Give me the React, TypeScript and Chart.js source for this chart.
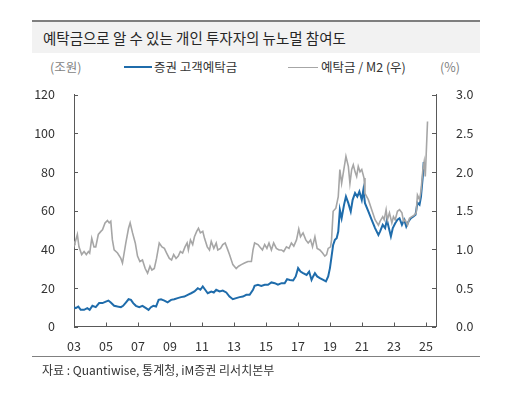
import { useEffect, useRef } from 'react';
import { Chart, registerables } from 'chart.js';

Chart.register(...registerables);

// 증권 고객예탁금 (조원)
const depositYears = [
  2003.0, 2003.11, 2003.27, 2003.42, 2003.63, 2003.83, 2003.98, 2004.15, 2004.36, 2004.57,
  2004.78, 2004.99, 2005.15, 2005.3, 2005.51, 2005.72, 2005.93, 2006.07, 2006.24, 2006.41,
  2006.56, 2006.7, 2006.87, 2007.08, 2007.28, 2007.5, 2007.66, 2007.81, 2007.96, 2008.13,
  2008.29, 2008.44, 2008.65, 2008.85, 2009.07, 2009.27, 2009.48, 2009.69, 2009.9, 2010.11,
  2010.32, 2010.53, 2010.74, 2010.9, 2011.05, 2011.2, 2011.36, 2011.58, 2011.74, 2011.89,
  2012.1, 2012.3, 2012.52, 2012.72, 2012.93, 2013.14, 2013.35, 2013.56, 2013.77, 2013.98,
  2014.19, 2014.29, 2014.5, 2014.71, 2014.92, 2015.13, 2015.34, 2015.55, 2015.75, 2015.97,
  2016.17, 2016.32, 2016.49, 2016.7, 2016.86, 2017.01, 2017.16, 2017.32, 2017.54, 2017.7,
  2017.85, 2017.95, 2018.06, 2018.2, 2018.37, 2018.58, 2018.75, 2018.89, 2019.0, 2019.1,
  2019.2, 2019.31, 2019.42, 2019.52, 2019.62, 2019.73, 2019.88, 2020.0, 2020.15, 2020.3,
  2020.42, 2020.57, 2020.71, 2020.84, 2020.99, 2021.09, 2021.19, 2021.4, 2021.61, 2021.82,
  2022.03, 2022.13, 2022.3, 2022.45, 2022.56, 2022.66, 2022.81, 2022.93, 2023.08, 2023.22,
  2023.35, 2023.5, 2023.64, 2023.77, 2023.91, 2024.06, 2024.22, 2024.35, 2024.47, 2024.6,
  2024.69, 2024.81, 2024.86,
];
const depositValues = [
  10.0, 9.5, 10.3, 8.6, 8.6, 9.5, 8.6, 10.7, 10.0, 12.1,
  12.1, 12.9, 13.4, 12.4, 10.7, 10.3, 10.0, 10.7, 12.4, 14.1,
  13.8, 12.1, 10.7, 10.0, 10.7, 9.5, 8.6, 10.0, 10.7, 10.3,
  13.8, 14.1, 13.4, 12.5, 13.8, 14.1, 14.7, 15.2, 15.5, 16.4,
  17.2, 18.1, 19.8, 19.0, 20.7, 19.0, 17.2, 18.1, 17.6, 19.0,
  18.1, 18.6, 17.6, 15.5, 14.1, 14.7, 15.2, 15.5, 16.4, 16.4,
  19.0, 21.0, 21.6, 21.0, 21.6, 21.6, 22.8, 22.4, 21.6, 22.4,
  22.4, 24.5, 24.1, 23.8, 25.9, 30.2, 28.4, 27.6, 26.7, 28.4,
  24.1, 25.9, 27.6, 25.9, 25.0, 24.1, 23.3, 25.9, 30.2, 36.2,
  42.2, 44.8, 45.7, 49.1, 60.3, 56.0, 62.9, 67.2, 63.8, 59.5,
  65.5, 69.0, 67.2, 69.8, 65.5, 70.7, 63.8, 59.5, 55.2, 50.9,
  47.4, 49.1, 52.6, 50.9, 55.2, 51.7, 46.6, 50.9, 53.4, 55.2,
  56.0, 52.6, 55.2, 51.7, 54.3, 56.0, 56.9, 57.8, 64.0, 63.0,
  67.0, 78.0, 85.0,
];

// 예탁금 / M2 (%), right axis
const ratioYears = [
  2003.0, 2003.06, 2003.21, 2003.31, 2003.48, 2003.63, 2003.77, 2003.9, 2003.98, 2004.11,
  2004.25, 2004.36, 2004.52, 2004.68, 2004.78, 2004.94, 2005.09, 2005.2, 2005.3, 2005.4,
  2005.51, 2005.72, 2005.93, 2006.03, 2006.24, 2006.41, 2006.51, 2006.66, 2006.83, 2006.97,
  2007.12, 2007.28, 2007.45, 2007.6, 2007.75, 2007.87, 2008.02, 2008.16, 2008.33, 2008.5,
  2008.65, 2008.79, 2008.96, 2009.1, 2009.23, 2009.38, 2009.52, 2009.65, 2009.79, 2009.94,
  2010.07, 2010.15, 2010.28, 2010.42, 2010.53, 2010.67, 2010.78, 2010.9, 2011.05, 2011.16,
  2011.33, 2011.47, 2011.58, 2011.74, 2011.89, 2011.99, 2012.16, 2012.3, 2012.45, 2012.58,
  2012.72, 2012.93, 2013.14, 2013.29, 2013.46, 2013.66, 2013.87, 2014.09, 2014.19, 2014.29,
  2014.5, 2014.61, 2014.78, 2014.92, 2015.06, 2015.19, 2015.34, 2015.48, 2015.65, 2015.82,
  2015.97, 2016.11, 2016.28, 2016.44, 2016.59, 2016.74, 2016.91, 2017.05, 2017.16, 2017.32,
  2017.49, 2017.64, 2017.79, 2017.91, 2018.06, 2018.2, 2018.37, 2018.54, 2018.68, 2018.79,
  2018.89, 2019.04, 2019.1, 2019.2, 2019.37, 2019.52, 2019.62, 2019.73, 2019.83, 2020.0,
  2020.15, 2020.25, 2020.36, 2020.46, 2020.57, 2020.67, 2020.77, 2020.88, 2020.99, 2021.13,
  2021.19, 2021.4, 2021.61, 2021.82, 2022.03, 2022.13, 2022.3, 2022.39, 2022.51, 2022.59,
  2022.72, 2022.87, 2022.97, 2023.08, 2023.22, 2023.35, 2023.5, 2023.6, 2023.7, 2023.85,
  2023.97, 2024.12, 2024.27, 2024.39, 2024.47, 2024.6, 2024.69, 2024.81, 2024.89, 2024.96,
  2025.02, 2025.1,
];
const ratioValues = [
  1.1, 1.08, 1.19, 1.03, 0.93, 0.97, 0.93, 0.97, 0.95, 1.14,
  1.03, 1.03, 1.19, 1.23, 1.25, 1.34, 1.37, 1.34, 1.36, 1.12,
  0.99, 0.95, 0.88, 0.82, 1.08, 1.27, 1.34, 1.21, 1.08, 0.91,
  0.84, 0.86, 0.75, 0.69, 0.78, 0.73, 0.75, 0.88, 1.08, 1.03,
  1.01, 0.95, 0.88, 0.86, 0.93, 0.88, 0.91, 0.97, 0.95, 1.03,
  1.08, 0.99, 1.12, 1.06, 1.16, 1.23, 1.27, 1.21, 1.23, 1.14,
  1.03, 0.99, 1.1, 1.01, 1.08, 0.99, 1.01, 1.06, 1.08, 1.01,
  0.93, 0.8, 0.75, 0.78, 0.8, 0.82, 0.84, 0.84, 0.99, 1.08,
  1.06, 1.03, 0.99, 1.06, 1.01, 1.08, 0.99, 1.08, 1.01, 0.99,
  0.99, 0.97, 1.03, 1.01, 1.08, 1.04, 1.12, 1.26, 1.16, 1.21,
  1.12, 1.08, 1.12, 1.03, 1.16, 1.01, 0.99, 0.95, 0.91, 0.93,
  1.01, 1.03, 1.12, 1.49, 1.53, 1.68, 2.03, 1.85, 1.98, 2.2,
  2.07, 1.85, 2.03, 2.09, 2.0, 1.94, 2.07, 2.0, 2.03, 1.92,
  1.72, 1.64, 1.51, 1.38, 1.31, 1.36, 1.42, 1.38, 1.51, 1.38,
  1.47, 1.34, 1.42, 1.38, 1.49, 1.51, 1.47, 1.36, 1.38, 1.31,
  1.4, 1.42, 1.44, 1.47, 1.7, 1.64, 1.75, 2.03, 2.13, 1.94,
  2.24, 2.65,
];

const xTickYears = [2003, 2005, 2007, 2009, 2011, 2013, 2015, 2017, 2019, 2021, 2023, 2025];

const BLUE = '#1f6cab';
const GREY = '#a6a6a6';
const AXIS = '#595959';
const FONT = '"Noto Sans CJK KR", "Noto Sans", sans-serif';

// axis tick marks in this chart point into the plot
const inwardTicks = {
  id: 'inwardTicks',
  afterDatasetsDraw(chart: any) {
    const { ctx, chartArea, scales } = chart;
    ctx.save();
    ctx.strokeStyle = AXIS;
    ctx.lineWidth = 1;
    ctx.beginPath();
    scales.x.ticks.forEach((t: any) => {
      const px = Math.round(scales.x.getPixelForValue(t.value)) + 0.5;
      ctx.moveTo(px, chartArea.bottom);
      ctx.lineTo(px, chartArea.bottom - 4);
    });
    scales.y.ticks.forEach((t: any) => {
      const py = Math.round(scales.y.getPixelForValue(t.value)) + 0.5;
      ctx.moveTo(chartArea.left, py);
      ctx.lineTo(chartArea.left + 4, py);
    });
    scales.y1.ticks.forEach((t: any) => {
      const py = Math.round(scales.y1.getPixelForValue(t.value)) + 0.5;
      ctx.moveTo(chartArea.right, py);
      ctx.lineTo(chartArea.right - 4, py);
    });
    ctx.stroke();
    ctx.restore();
  },
};

const DepositChart = () => {
  const canvasRef = useRef<HTMLCanvasElement>(null);

  useEffect(() => {
    const canvas = canvasRef.current;
    if (!canvas) return;

    const tickFont = { family: FONT, size: 12.5 };

    const chart = new Chart(canvas, {
      type: 'line',
      data: {
        datasets: [
          {
            label: '증권 고객예탁금',
            data: depositYears.map((x, i) => ({ x, y: depositValues[i] })),
            borderColor: BLUE,
            borderWidth: 2,
            pointRadius: 0,
            yAxisID: 'y',
            order: 1,
          },
          {
            label: '예탁금 / M2 (우)',
            data: ratioYears.map((x, i) => ({ x, y: ratioValues[i] })),
            borderColor: GREY,
            borderWidth: 1.6,
            pointRadius: 0,
            yAxisID: 'y1',
            order: 0,
          },
        ],
      },
      options: {
        animation: false,
        responsive: true,
        maintainAspectRatio: false,
        layout: { padding: { left: 30, right: 32, top: 94.5, bottom: 47.5 } },
        plugins: {
          legend: { display: false },
          tooltip: { enabled: false },
        },
        scales: {
          x: {
            type: 'linear',
            min: 2003,
            max: 2025.63,
            afterBuildTicks: (scale: any) => {
              scale.ticks = xTickYears.map((v) => ({ value: v }));
            },
            afterFit: (scale: any) => {
              scale.height = 30;
            },
            grid: { display: false },
            border: { display: true, color: AXIS, width: 1 },
            ticks: {
              font: tickFont,
              color: '#333',
              padding: 4,
              maxRotation: 0,
              autoSkip: false,
              callback: (v: any) => String(v).slice(2),
            },
          },
          y: {
            position: 'left',
            min: 0,
            max: 120,
            afterFit: (scale: any) => {
              scale.width = 44;
            },
            grid: { display: false },
            border: { display: true, color: AXIS, width: 1 },
            ticks: { stepSize: 20, font: tickFont, color: '#333', padding: 11 },
          },
          y1: {
            position: 'right',
            min: 0,
            max: 3,
            afterFit: (scale: any) => {
              scale.width = 44;
            },
            grid: { display: false },
            border: { display: true, color: AXIS, width: 1 },
            ticks: {
              stepSize: 0.5,
              font: tickFont,
              color: '#333',
              padding: 12,
              callback: (v: any) => Number(v).toFixed(1),
            },
          },
        },
      },
      plugins: [inwardTicks],
    });

    return () => {
      chart.destroy();
    };
  }, []);

  return (
    <div style={{ position: 'absolute', left: 0, top: 0, width: 512, height: 404 }}>
      <canvas ref={canvasRef}></canvas>
    </div>
  );
};

const text = (left: number, top: number, size: number, color: string) => ({
  position: 'absolute' as const,
  left,
  top,
  fontSize: size,
  lineHeight: '16px',
  color,
  whiteSpace: 'nowrap' as const,
  fontFamily: FONT,
});

const App = () => {
  return (
    <div style={{ position: 'absolute', left: 0, top: 0, width: 512, height: 404, background: '#fff' }}>
      <div
        style={{
          position: 'absolute',
          left: 32,
          top: 20,
          width: 448,
          height: 31,
          background: '#f2f2f2',
          borderTop: '2px solid #7f7f7f',
        }}
      />
      <div style={{ ...text(43, 29, 14.5, '#262626'), lineHeight: '18px' }}>
        예탁금으로 알 수 있는 개인 투자자의 뉴노멀 참여도
      </div>

      <div style={text(50, 59, 12.5, '#7f7f7f')}>(조원)</div>
      <div style={{ position: 'absolute', left: 124, top: 66, width: 28, height: 2, background: BLUE }} />
      <div style={text(154, 59, 12.5, '#333')}>증권 고객예탁금</div>
      <div style={{ position: 'absolute', left: 288, top: 66.5, width: 30, height: 1.5, background: GREY }} />
      <div style={text(321, 59, 12.5, '#333')}>예탁금 / M2 (우)</div>
      <div style={text(440, 59, 12.5, '#7f7f7f')}>(%)</div>

      <DepositChart />

      <div style={{ position: 'absolute', left: 32, top: 356, width: 448, height: 1, background: '#808080' }} />
      <div style={text(42, 362, 12, '#333')}>자료 : Quantiwise, 통계청, iM증권 리서치본부</div>
    </div>
  );
};

export default App;
